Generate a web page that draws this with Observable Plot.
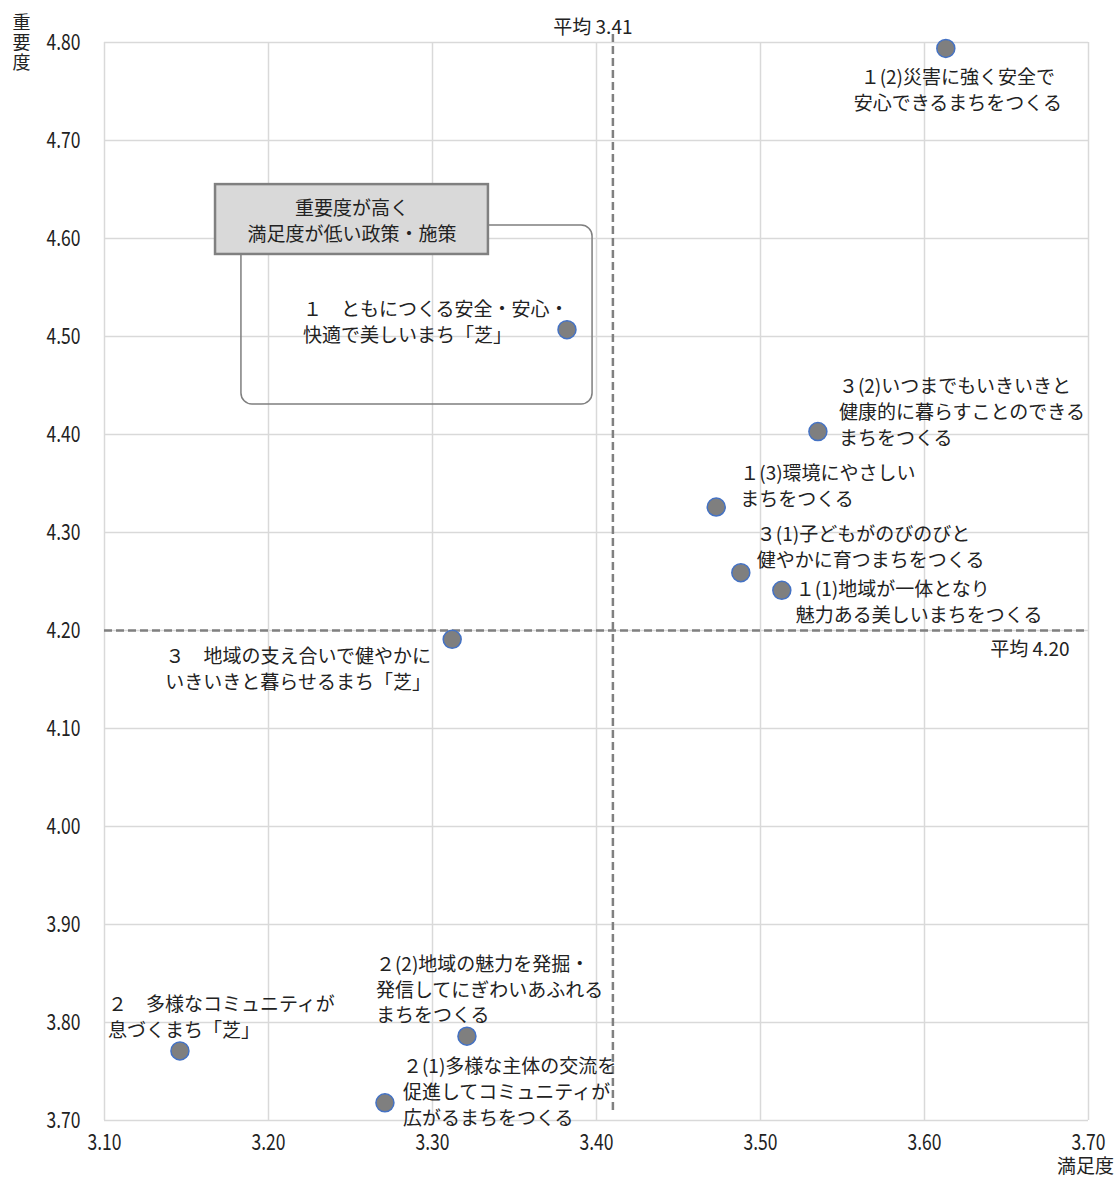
<!DOCTYPE html>
<html>
<head>
<meta charset="utf-8">
<script src="https://cdn.jsdelivr.net/npm/d3@7"></script>
<script src="https://cdn.jsdelivr.net/npm/@observablehq/plot@0.6"></script>
<style>
  html, body { margin: 0; padding: 0; background: #fff; }
  #chart svg { display: block; }
</style>
</head>
<body>
<div id="chart"></div>
<script>
// ---- data ----
const policies = [
  "１(2)災害に強く安全で\n安心できるまちをつくる",
  "１　ともにつくる安全・安心・\n快適で美しいまち「芝」",
  "３(2)いつまでもいきいきと\n健康的に暮らすことのできる\nまちをつくる",
  "１(3)環境にやさしい\nまちをつくる",
  "３(1)子どもがのびのびと\n健やかに育つまちをつくる",
  "１(1)地域が一体となり\n魅力ある美しいまちをつくる",
  "３　地域の支え合いで健やかに\nいきいきと暮らせるまち「芝」",
  "２(2)地域の魅力を発掘・\n発信してにぎわいあふれる\nまちをつくる",
  "２　多様なコミュニティが\n息づくまち「芝」",
  "２(1)多様な主体の交流を\n促進してコミュニティが\n広がるまちをつくる"
];
const satisfaction = [3.613, 3.382, 3.535, 3.473, 3.488, 3.513, 3.312, 3.321, 3.146, 3.271];
const importance   = [4.794, 4.507, 4.403, 4.326, 4.259, 4.241, 4.191, 3.786, 3.771, 3.718];

const xTicks = [3.10, 3.20, 3.30, 3.40, 3.50, 3.60, 3.70];
const yTicks = [3.70, 3.80, 3.90, 4.00, 4.10, 4.20, 4.30, 4.40, 4.50, 4.60, 4.70, 4.80];

const avgSatisfaction = 3.41;
const avgImportance = 4.20;

const xTitle = "満足度";
const yTitle = "重\n要\n度";

const calloutTitle = "重要度が高く\n満足度が低い政策・施策";
// callout box extents in data units
const calloutFrame = {x1: 3.1835, x2: 3.3976, y1: 4.4306, y2: 4.6133};
const calloutHeader = {x1: 3.1677, x2: 3.3341, y1: 4.5837, y2: 4.655};

// ---- layout of point labels (offsets in px) ----
const labelLayout = [
  {dx: 12,   dy: 40,  anchor: "middle"},
  {dx: -264, dy: -9,  anchor: "start"},
  {dx: 21,   dy: -21, anchor: "start"},
  {dx: 24,   dy: -22, anchor: "start"},
  {dx: 16,   dy: -27, anchor: "start"},
  {dx: 14,   dy: 10,  anchor: "start"},
  {dx: -154, dy: 28,  anchor: "middle"},
  {dx: -91,  dy: -48, anchor: "start"},
  {dx: -72,  dy: -35, anchor: "start"},
  {dx: 18,   dy: -12, anchor: "start"}
];

const points = policies.map((name, i) => ({name, x: satisfaction[i], y: importance[i]}));

const FONT = "'Noto Sans CJK JP', 'Noto Sans', sans-serif";
const INK = "#222";

const labelMarks = points.map((p, i) =>
  Plot.text([p], {
    x: "x", y: "y", text: "name",
    dx: labelLayout[i].dx, dy: labelLayout[i].dy,
    textAnchor: labelLayout[i].anchor, lineAnchor: "middle",
    lineHeight: 1.36, fontSize: 19, fill: INK, fontFamily: FONT
  })
);

const chart = Plot.plot({
  width: 1117,
  height: 1180,
  marginLeft: 104,
  marginRight: 29,
  marginTop: 42,
  marginBottom: 60,
  style: {fontFamily: FONT, fontSize: "19px", background: "#fff", overflow: "visible"},
  x: {domain: [3.1, 3.7]},
  y: {domain: [3.7, 4.8]},
  marks: [
    Plot.gridX(xTicks, {stroke: "#d9d9d9", strokeOpacity: 1, strokeWidth: 1.5}),
    Plot.gridY(yTicks, {stroke: "#d9d9d9", strokeOpacity: 1, strokeWidth: 1.5}),
    Plot.axisX(xTicks, {tickSize: 0, tickPadding: 14, tickFormat: d3.format(".2f"), fontSize: 22, fontFamily: FONT, fill: INK, label: null}),
    Plot.axisY(yTicks, {tickSize: 0, tickPadding: 24, tickFormat: d3.format(".2f"), fontSize: 22, fontFamily: FONT, fill: INK, label: null}),
    // averages
    Plot.ruleY([avgImportance], {stroke: "#808080", strokeWidth: 2.5, strokeDasharray: "8,4"}),
    Plot.ruleX([avgSatisfaction], {stroke: "#808080", strokeWidth: 2.5, strokeDasharray: "8,4", insetTop: -8, insetBottom: 8}),
    Plot.text([avgSatisfaction], {x: d => d, frameAnchor: "top", text: d => `平均 ${d.toFixed(2)}`, textAnchor: "middle", dx: -20, dy: -22, fontSize: 19, fontFamily: FONT, fill: INK}),
    Plot.text([avgImportance], {y: d => d, frameAnchor: "right", text: d => `平均 ${d.toFixed(2)}`, textAnchor: "end", dx: -19, dy: 19, fontSize: 19, fontFamily: FONT, fill: INK}),
    // callout
    Plot.rect([calloutFrame], {x1: "x1", x2: "x2", y1: "y1", y2: "y2", fill: "none", stroke: "#7f7f7f", strokeWidth: 1.5, rx: 11}),
    Plot.rect([calloutHeader], {x1: "x1", x2: "x2", y1: "y1", y2: "y2", fill: "#d9d9d9", stroke: "#808080", strokeWidth: 2.5}),
    Plot.text([calloutHeader], {x: d => (d.x1 + d.x2) / 2, y: d => (d.y1 + d.y2) / 2, text: () => calloutTitle, lineAnchor: "middle", lineHeight: 1.4, fontSize: 19, fill: INK}),
    // points
    Plot.dot(points, {x: "x", y: "y", r: 9, fill: "#7f7f7f", stroke: "#4472c4", strokeWidth: 1.5}),
    ...labelMarks,
    // axis titles
    Plot.text([yTitle], {frameAnchor: "top-left", text: d => d, textAnchor: "middle", dx: -83, dy: 0, lineAnchor: "middle", lineHeight: 1.1, fontSize: 18, fill: INK}),
    Plot.text([xTitle], {frameAnchor: "bottom-right", text: d => d, textAnchor: "middle", dx: -3, dy: 52, fontSize: 19, fill: INK})
  ]
});

// condense the numeric tick labels (narrow, tall digits as in the original)
d3.select(chart).selectAll('g[aria-label="x-axis tick label"] text, g[aria-label="y-axis tick label"] text')
  .attr("textLength", 34)
  .attr("lengthAdjust", "spacingAndGlyphs");

document.getElementById("chart").appendChild(chart);
</script>
</body>
</html>
